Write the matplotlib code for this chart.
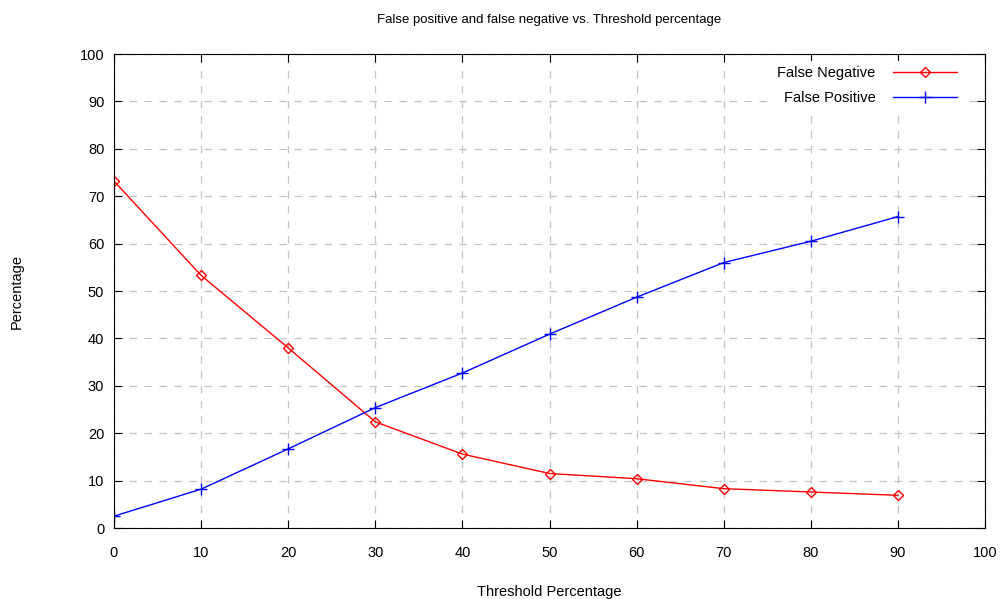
import matplotlib
matplotlib.use("Agg")
import matplotlib.pyplot as plt

threshold = [0, 10, 20, 30, 40, 50, 60, 70, 80, 90]
false_negative = [73.2, 53.3, 38.0, 22.4, 15.6, 11.5, 10.4, 8.3, 7.6, 6.9]
false_positive = [2.5, 8.2, 16.7, 25.4, 32.7, 40.9, 48.7, 56.0, 60.5, 65.7]

plt.rcParams['font.family'] = ['Liberation Sans', 'DejaVu Sans']
plt.rcParams['font.size'] = 10.5

fig = plt.figure(figsize=(10, 5.99), dpi=100)
ax = fig.add_axes([0.114, 0.1185, 0.871, 0.7913])

ax.plot(threshold, false_negative, color='red', lw=1, marker='D', ms=5,
        mfc='none', mec='red', mew=1, label='False Negative')
ax.plot(threshold, false_positive, color='blue', lw=1, marker='+', ms=8,
        mew=1, label='False Positive')

ax.set_xlim(0, 100)
ax.set_ylim(0, 100)
ax.set_xticks(range(0, 101, 10))
ax.set_yticks(range(0, 101, 10))
ax.tick_params(direction='in', top=True, right=True, length=6, pad=13)
ax.tick_params(axis='y', pad=7)
ax.grid(True, color='#c4c4c4', linestyle=(0, (6, 6)), lw=0.9)
ax.set_axisbelow(True)

ax.set_title('False positive and false negative vs. Threshold percentage', fontsize=9.5, pad=22)
ax.set_xlabel('Threshold Percentage', labelpad=18)
ax.set_ylabel('Percentage', labelpad=40)

ax.legend(loc='upper right', bbox_to_anchor=(0.9747, 0.9863), markerfirst=False,
          frameon=True, framealpha=1, edgecolor='none', fancybox=False,
          handlelength=4.4, handletextpad=1.2, labelspacing=0.75, borderaxespad=0)

fig.savefig('out.png', dpi=100)
